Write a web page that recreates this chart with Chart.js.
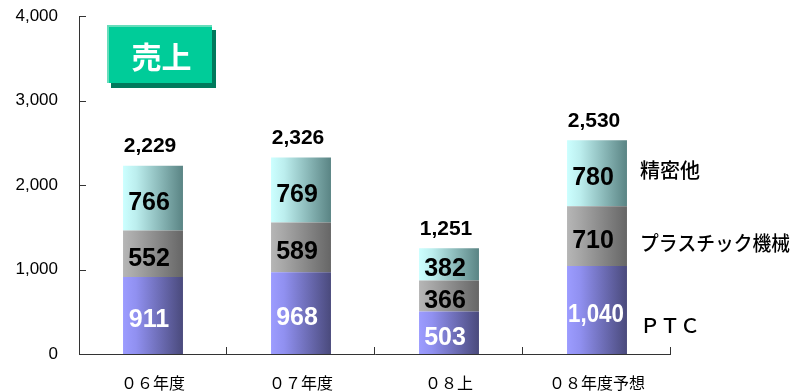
<!DOCTYPE html>
<html lang="ja">
<head>
<meta charset="utf-8">
<title>売上</title>
<script src="https://cdn.jsdelivr.net/npm/chart.js@4.4.6/dist/chart.umd.min.js"></script>
<style>
  html, body { margin: 0; padding: 0; background: #fff; }
  #wrap { width: 790px; height: 392px; }
</style>
</head>
<body>
<div id="wrap"><canvas id="sales" width="790" height="392"></canvas></div>
<script>
// 売上 by segment, stacked bars (単位: 百万円)
const categories = ['０６年度', '０７年度', '０８上', '０８年度予想']
const ptc = [911, 968, 503, 1040]
const plastic = [552, 589, 366, 710]
const precision = [766, 769, 382, 780]
const seriesNames = ['ＰＴＣ', 'プラスチック機械', '精密他']
const yTicks = [0, 1000, 2000, 3000, 4000]
const titleText = '売上'

const totals = categories.map((_, i) => ptc[i] + plastic[i] + precision[i])

const NUM_FONT = '"Liberation Sans", Arial, sans-serif'
const JP_FONT = '"Noto Sans CJK JP", "Noto Sans", sans-serif'
const BAR_PCT = 0.405

// light -> mid -> dark, left to right across each bar
const palettes = [
  ['#9C9CFF', '#9090F0', '#4A4A7C'],
  ['#B6B6B6', '#A6A6A6', '#666666'],
  ['#CCFFFF', '#BCEEEE', '#5A8484']
]

function barFill (colors) {
  return ctx => {
    const chart = ctx.chart
    const xs = chart.scales.x
    if (!chart.chartArea || !xs || ctx.dataIndex === undefined) return colors[0]
    const half = xs.width / categories.length * BAR_PCT / 2
    const cx = xs.getPixelForValue(ctx.dataIndex)
    const g = chart.ctx.createLinearGradient(cx - half, 0, cx + half, 0)
    g.addColorStop(0, colors[0])
    g.addColorStop(0.22, colors[1])
    g.addColorStop(1, colors[2])
    return g
  }
}

// axes: ticks point into the plot, category separators on the baseline
const axisLines = {
  id: 'axisLines',
  afterDatasetsDraw (chart) {
    const { ctx, chartArea: a, scales: { y } } = chart
    ctx.save()
    ctx.strokeStyle = '#333'
    ctx.lineWidth = 1
    ctx.beginPath()
    ctx.moveTo(a.left + 0.5, a.top)
    ctx.lineTo(a.left + 0.5, a.bottom + 0.5)
    ctx.lineTo(a.right, a.bottom + 0.5)
    yTicks.forEach(v => {
      const py = Math.round(y.getPixelForValue(v)) + 0.5
      ctx.moveTo(a.left, py)
      ctx.lineTo(a.left + 7, py)
    })
    const step = (a.right - a.left) / categories.length
    for (let i = 1; i <= categories.length; i++) {
      const px = Math.round(a.left + step * i) - 0.5
      ctx.moveTo(px, a.bottom)
      ctx.lineTo(px, a.bottom - 7)
    }
    ctx.stroke()
    ctx.restore()
  }
}

// segment values inside bars, totals on top
const valueLabels = {
  id: 'valueLabels',
  afterDatasetsDraw (chart) {
    const { ctx } = chart
    ctx.save()
    ctx.textAlign = 'center'
    ctx.textBaseline = 'middle'
    ctx.font = 'bold 25px ' + NUM_FONT
    chart.data.datasets.forEach((ds, di) => {
      const meta = chart.getDatasetMeta(di)
      ctx.fillStyle = di === 0 ? '#fff' : '#000'
      meta.data.forEach((el, i) => {
        const text = ds.data[i].toLocaleString('en-US')
        const maxW = el.width - 4
        const w = Math.min(ctx.measureText(text).width, maxW)
        const cx = Math.max(el.x - 4, el.x - el.width / 2 + w / 2 + 1)
        ctx.fillText(text, cx, (el.y + el.base) / 2 + 5, maxW)
      })
    })
    const top = chart.getDatasetMeta(chart.data.datasets.length - 1)
    ctx.fillStyle = '#000'
    ctx.font = 'bold 21px ' + NUM_FONT
    top.data.forEach((el, i) => {
      ctx.fillText(totals[i].toLocaleString('en-US'), el.x - 3, el.y - 19)
    })
    ctx.restore()
  }
}

// series names beside the last bar
const seriesLabels = {
  id: 'seriesLabels',
  afterDatasetsDraw (chart) {
    const { ctx } = chart
    const nudge = [15, 7, -3]
    ctx.save()
    ctx.textAlign = 'left'
    ctx.textBaseline = 'middle'
    ctx.fillStyle = '#000'
    ctx.font = '500 20px ' + JP_FONT
    seriesNames.forEach((name, di) => {
      const meta = chart.getDatasetMeta(di)
      const el = meta.data[meta.data.length - 1]
      ctx.fillText(name, el.x + el.width / 2 + 13, (el.y + el.base) / 2 + nudge[di], 150)
    })
    ctx.restore()
  }
}

// green title badge with drop shadow
const titleBadge = {
  id: 'titleBadge',
  afterDraw (chart) {
    const { ctx } = chart
    const x = 107, y = 25, w = 105, h = 58
    ctx.save()
    ctx.fillStyle = '#007A5C'
    ctx.fillRect(x + 4, y + 5, w, h)
    ctx.fillStyle = '#00CC99'
    ctx.fillRect(x, y, w, h)
    ctx.fillStyle = '#66DDBB'
    ctx.fillRect(x, y, w, 2)
    ctx.fillRect(x, y, 2, h)
    ctx.fillStyle = '#fff'
    ctx.font = 'bold 30px ' + JP_FONT
    ctx.textAlign = 'center'
    ctx.textBaseline = 'middle'
    ctx.fillText(titleText, x + w / 2 + 2, y + h / 2 + 3)
    ctx.restore()
  }
}

const series = [ptc, plastic, precision]

new Chart(document.getElementById('sales'), {
  type: 'bar',
  data: {
    labels: categories,
    datasets: series.map((data, i) => ({
      label: seriesNames[i],
      data,
      backgroundColor: barFill(palettes[i]),
      borderWidth: 0,
      barPercentage: BAR_PCT,
      categoryPercentage: 1
    }))
  },
  options: {
    responsive: false,
    animation: false,
    layout: { padding: { top: 16, right: 119, bottom: 0, left: 0 } },
    plugins: { legend: { display: false }, tooltip: { enabled: false } },
    scales: {
      x: {
        stacked: true,
        grid: { display: false, drawTicks: false },
        border: { display: false },
        ticks: {
          color: '#000',
          font: { family: JP_FONT, size: 16 },
          padding: 19,
          maxRotation: 0,
          autoSkip: false
        },
        afterFit: s => { s.height = 38 }
      },
      y: {
        stacked: true,
        min: yTicks[0],
        max: yTicks[yTicks.length - 1],
        grid: { display: false, drawTicks: false },
        border: { display: false },
        afterBuildTicks: s => { s.ticks = yTicks.map(v => ({ value: v })) },
        ticks: {
          color: '#000',
          font: { family: NUM_FONT, size: 17 },
          padding: 21,
          callback: v => v.toLocaleString('en-US')
        },
        afterFit: s => {
          s.width = 79
          s.paddingTop = 0
          s.paddingBottom = 0
        }
      }
    }
  },
  plugins: [axisLines, valueLabels, seriesLabels, titleBadge]
})
</script>
</body>
</html>
